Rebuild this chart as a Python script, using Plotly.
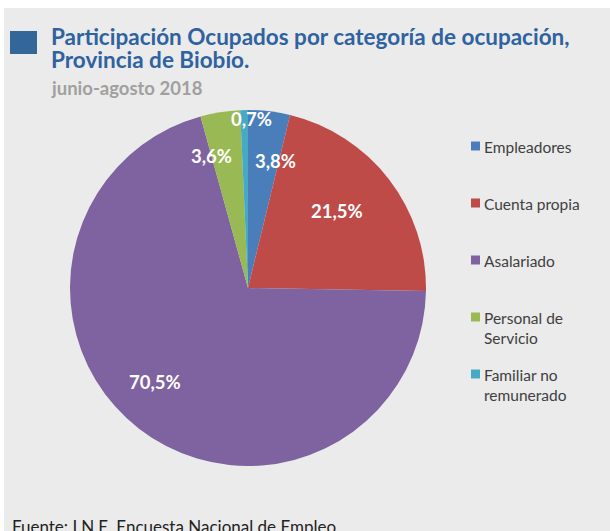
import math
import plotly.graph_objects as go

categories = ["Empleadores", "Cuenta propia", "Asalariado", "Personal de Servicio", "Familiar no remunerado"]
legend_labels = ["Empleadores", "Cuenta propia", "Asalariado", "Personal de<br>Servicio", "Familiar no<br>remunerado"]
values = [3.8, 21.5, 70.5, 3.6, 0.7]
value_labels = ["3,8%", "21,5%", "70,5%", "3,6%", "0,7%"]

colors = ["#4a7ebb", "#be4b48", "#7f62a0", "#98b954", "#46aac5"]

W, H = 610, 531
def px(x):
    return x / W
def py(y):
    return 1 - y / H

# pie geometry (pixels)
CX, CY, R = 248, 288, 178
# label placement style (radius fraction, angle offset in degrees)
label_style = [(0.73, 5.5), (0.66, -3.0), (0.74, 7.0), (0.77, -6.5), (0.95, 2.5)]

fig = go.Figure()
fig.add_trace(go.Pie(
    labels=categories, values=values, sort=False, direction="clockwise",
    rotation=0, marker=dict(colors=colors, line=dict(width=0)),
    textinfo="none", hoverinfo="label+percent", showlegend=False,
    domain=dict(x=[px(CX - R), px(CX + R)], y=[py(CY + R), py(CY - R)]),
))

annotations = []
total = sum(values)
cum = 0
for i, v in enumerate(values):
    mid = (cum + v / 2) / total * 360
    cum += v
    rf, off = label_style[i]
    a = math.radians(mid + off)
    lx = CX + rf * R * math.sin(a)
    ly = CY - rf * R * math.cos(a)
    annotations.append(dict(x=px(lx), y=py(ly), xref="paper", yref="paper",
                            text=f"<b>{value_labels[i]}</b>", showarrow=False,
                            font=dict(family="Lato", size=18.5, color="white"),
                            xanchor="center", yanchor="middle"))

# title
title_font = dict(family="Lato", size=22.5, color="#2f62a0")
annotations.append(dict(x=px(49), y=py(36), xref="paper", yref="paper", xanchor="left", yanchor="middle",
                        text="<b>Participación Ocupados por categoría de ocupación,</b>", showarrow=False, font=title_font))
annotations.append(dict(x=px(49), y=py(60), xref="paper", yref="paper", xanchor="left", yanchor="middle",
                        text="<b>Provincia de Biobío.</b>", showarrow=False, font=title_font))
annotations.append(dict(x=px(49), y=py(88), xref="paper", yref="paper", xanchor="left", yanchor="middle",
                        text="<b>junio-agosto 2018</b>", showarrow=False,
                        font=dict(family="Lato", size=18.5, color="#a0a0a0")))
# footer
annotations.append(dict(x=px(10), y=py(526), xref="paper", yref="paper", xanchor="left", yanchor="middle",
                        text="Fuente: I.N.E. Encuesta Nacional de Empleo", showarrow=False,
                        font=dict(family="Lato", size=17, color="#222222")))

shapes = [
    dict(type="rect", xref="paper", yref="paper", x0=px(4), x1=1, y0=0, y1=py(8),
         fillcolor="#ebebeb", line=dict(width=0), layer="below"),
    dict(type="rect", xref="paper", yref="paper", x0=px(10), x1=px(37), y0=py(54), y1=py(31),
         fillcolor="#336699", line=dict(width=0)),
]

# manual legend
LX, LY0, STEP = 471, 146, 57
for i, lab in enumerate(legend_labels):
    y = LY0 + i * STEP
    shapes.append(dict(type="rect", xref="paper", yref="paper", x0=px(LX), x1=px(LX + 9),
                       y0=py(y + 4.5), y1=py(y - 4.5), fillcolor=colors[i], line=dict(width=0)))
    annotations.append(dict(x=px(LX + 11), y=py(y - 10), xref="paper", yref="paper",
                            xanchor="left", yanchor="top", align="left",
                            text=lab, showarrow=False,
                            font=dict(family="Lato", size=15.5, color="#404040")))

fig.update_layout(
    width=W, height=H, margin=dict(l=0, r=0, t=0, b=0),
    paper_bgcolor="white", plot_bgcolor="rgba(0,0,0,0)",
    annotations=annotations, shapes=shapes, showlegend=False,
)

fig.write_html("out.html")
